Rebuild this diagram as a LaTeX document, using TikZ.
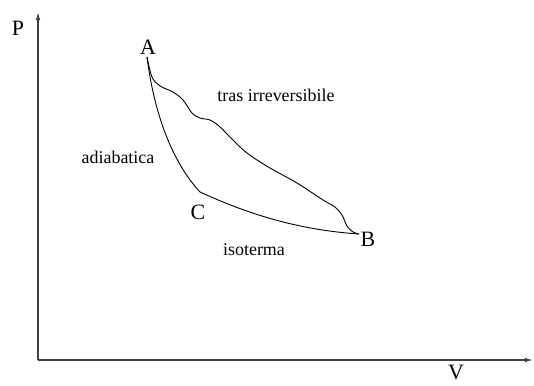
\documentclass[tikz,border=0pt]{standalone}
\usepackage{fontspec}
\setmainfont{Liberation Serif}
\usepackage{tikz}
\usetikzlibrary{arrows.meta}

\begin{document}
\begin{tikzpicture}[x=1bp, y=-1bp,
    axis/.style={-{Latex[length=8bp,width=4.5bp]}, line width=1.2bp, black!75},
    curve/.style={line width=0.9bp},
    bigl/.style={font=\fontsize{22}{24}\selectfont, inner sep=0pt},
    smalll/.style={font=\fontsize{18}{20}\selectfont, inner sep=0pt}]
\useasboundingbox (0,0) rectangle (534,385);

    % Axes
    \coordinate (O) at (38,360);
    \coordinate (Ptip) at (38,12);
    \coordinate (Vtip) at (533,360);
    \draw[axis] (O) -- (Ptip);
    \draw[axis] (O) -- (Vtip);
    \node[bigl] (P) at (18,28) {P};
    \node[bigl] (V) at (456,372) {V};

    % States
    \coordinate (A) at (147,57);
    \coordinate (C) at (200,192);
    \coordinate (B) at (359,234);
    \node[bigl] (Alab) at (148,47) {A};
    \node[bigl] (Clab) at (198,212) {C};
    \node[bigl] (Blab) at (368,239) {B};

    % Adiabatic A -> C
    \draw[curve] (A) .. controls (155,120) and (175,165) .. (C);
    \node[smalll] (adiab) at (118,157) {adiabatica};

    % Isotherm C -> B
    \draw[curve] (C) .. controls (250,215) and (300,230) .. (B);
    \node[smalll] (isot) at (254,250) {isoterma};

    % Irreversible transformation A -> B
    \draw[curve] plot[smooth, tension=0.55] coordinates {(A) (152,77) (160,86) (173,92)
        (183,100) (192,113) (200,118) (210,120) (219,126) (230,137) (247,153)
        (270,168) (297,183) (323,200) (335,207) (342,215) (347,226) (353,232) (B)};
    \node[smalll] (irrev) at (276,95) {tras irreversibile};

\end{tikzpicture}
\end{document}
